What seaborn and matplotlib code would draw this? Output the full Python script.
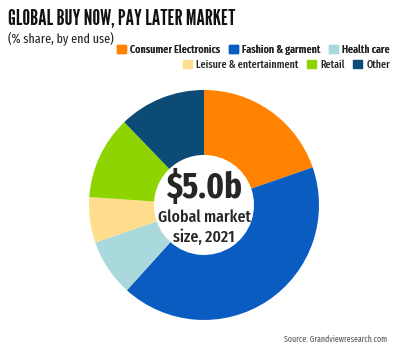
import matplotlib.pyplot as plt
import seaborn as sns
from matplotlib.patches import Patch

# Data: % share by end use
categories = ["Consumer Electronics", "Fashion & garment", "Health care",
              "Leisure & entertainment", "Retail", "Other"]
shares = [19.7, 42.0, 8.0, 6.4, 11.7, 12.2]
colors = ["#FF8200", "#0A5CC0", "#A9D9DD", "#FFDD8C", "#8ED400", "#0B4B76"]

sns.set_theme(style="white")
plt.rcParams['font.family'] = ['Fira Sans Extra Condensed', 'Barlow Condensed', 'DejaVu Sans']

fig = plt.figure(figsize=(4.0, 3.54), dpi=100)
renderer = fig.canvas.get_renderer()


def fit(t, width_px):
    # scale a text's font size so it spans the width seen in the reference
    w = t.get_window_extent(renderer).width
    t.set_fontsize(t.get_fontsize() * width_px / w)
    return t


ax = fig.add_axes([0.2225, 0.096, 0.575, 0.65])
ax.pie(shares, colors=colors, startangle=90, counterclock=False,
       wedgeprops=dict(width=0.565, edgecolor="none"))
ax.set_xlim(-1, 1)
ax.set_ylim(-1, 1)
ax.set_aspect("equal")

fit(ax.text(0, 0.15, "$5.0b", ha="center", va="center", fontsize=24,
            fontweight="bold"), 76)
g1 = fit(ax.text(0, -0.11, "Global market", ha="center", va="center", fontsize=14,
                 fontweight="medium"), 93)
ax.text(0, -0.28, "size, 2021", ha="center", va="center",
        fontsize=g1.get_fontsize(), fontweight="medium")

fit(fig.text(0.02, 0.93, "GLOBAL BUY NOW, PAY LATER MARKET", fontsize=20,
             family=['League Gothic', 'Fira Sans Extra Condensed', 'DejaVu Sans'],
             va="baseline", color="#111111"), 227)
fit(fig.text(0.02, 0.877, "(% share, by end use)", fontsize=12, va="baseline",
             color="#222222"), 105)

handles = [Patch(color=c, label=l) for c, l in zip(colors, categories)]


def legend_row(hs, y, size):
    kw = dict(ncol=3, loc="upper right", frameon=False,
              prop={"size": size, "weight": "medium"},
              handlelength=0.8, handleheight=0.8, handletextpad=0.4,
              columnspacing=0.8, borderpad=0.1, borderaxespad=0)
    return fig.legend(handles=hs, bbox_to_anchor=(0.978, y), **kw)


probe = legend_row(handles[:3], 0.878, 10)
size = 10 * 274 / probe.get_window_extent(renderer).width
probe.remove()
leg1 = legend_row(handles[:3], 0.878, size)
fig.add_artist(leg1)
legend_row(handles[3:], 0.835, size)

fit(fig.text(0.968, 0.035, "Source: Grandviewresearch.com", ha="right", fontsize=8,
             color="#555555"), 104)

fig.savefig("out.png", dpi=100)
